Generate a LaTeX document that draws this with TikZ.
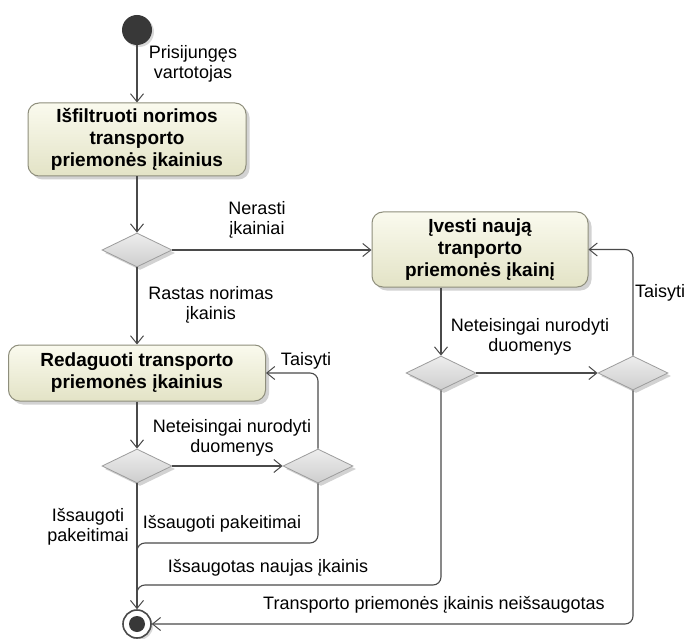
\documentclass[tikz,border=0pt]{standalone}
\usepackage{fontspec}
\setmainfont{Liberation Sans}
\usetikzlibrary{shapes.geometric,arrows.meta,shadows,calc}

\definecolor{edgegray}{HTML}{4A4A4A}
\definecolor{boxline}{HTML}{8E8E7C}
\definecolor{boxtop}{HTML}{FAFAEE}
\definecolor{boxbot}{HTML}{E3E3C6}
\definecolor{decline}{HTML}{9C9C9C}
\definecolor{dectop}{HTML}{EEEEEE}
\definecolor{decbot}{HTML}{CDCDCD}
\definecolor{dotfill}{HTML}{383838}

\tikzset{
  action/.style={draw=boxline, line width=1pt, rounded corners=11pt,
    top color=boxtop, bottom color=boxbot, align=center, inner sep=0pt,
    font=\fontsize{19}{22}\selectfont\bfseries,
    drop shadow={shadow xshift=3.5pt, shadow yshift=-3.5pt, opacity=0.35, fill=gray}},
  decision/.style={diamond, draw=decline, line width=0.8pt, inner sep=0pt,
    minimum width=70pt, minimum height=34pt,
    top color=dectop, bottom color=decbot,
    drop shadow={shadow xshift=3pt, shadow yshift=-3pt, opacity=0.35, fill=gray}},
  flow/.style={draw=edgegray, line width=1.1pt, rounded corners=8pt},
  flowarrow/.style={flow, -{Straight Barb[length=8pt,width=13pt,line width=1pt]}},
  guard/.style={align=center, inner sep=0pt, text=black,
    font=\fontsize{18}{20}\selectfont},
}

\begin{document}
\begin{tikzpicture}[x=1pt, y=-1pt]
  % page area
  \useasboundingbox (0,0) rectangle (688,639);
  \fill[white] (0,0) rectangle (688,639);

  % initial and final states
  \node[circle, fill=dotfill, minimum size=30pt, inner sep=0pt,
        drop shadow={shadow xshift=2pt, shadow yshift=-2pt, opacity=0.3, fill=gray}]
        (start) at (137,30) {};
  \node[circle, draw=edgegray, line width=1.6pt, fill=white, minimum size=28pt, inner sep=0pt,
        drop shadow={shadow xshift=2pt, shadow yshift=-2pt, opacity=0.3, fill=gray}]
        (finish) at (137,624) {};
  \fill[dotfill] (finish.center) circle (8pt);

  % actions
  \node[action, minimum width=218pt, minimum height=73pt] (filter) at (137,139.5)
    {Išfiltruoti norimos\\transporto\\priemonės įkainius};
  \node[action, minimum width=257pt, minimum height=56pt] (edit) at (137,373)
    {Redaguoti transporto\\priemonės įkainius};
  \node[action, minimum width=216pt, minimum height=75pt] (enter) at (480,249.5)
    {Įvesti naują\\tranporto\\priemonės įkainį};

  % decisions
  \node[decision] (found) at (137,250) {};
  \node[decision] (editok) at (137,466) {};
  \node[decision] (editfix) at (318,466) {};
  \node[decision] (newok) at (441,373) {};
  \node[decision] (newfix) at (633,373) {};

  % merge points on the way to the final state
  \coordinate (mergeA) at (137,543);
  \coordinate (mergeAend) at (137,556);
  \coordinate (mergeB) at (137,585);
  \coordinate (mergeBend) at (137,598);

  % flows
  \draw[flowarrow] (start) -- (filter.north);
  \draw[flowarrow] (filter.south) -- (found.north);
  \draw[flowarrow] (found.east) -- (found.east -| enter.west);
  \draw[flowarrow] (found.south) -- (edit.north);
  \draw[flowarrow] (edit.south) -- (editok.north);
  \draw[flowarrow] (editok.east) -- (editfix.west);
  \draw[flowarrow] (editfix.north) |- (edit.east);
  \draw[flowarrow] (newok.north |- enter.south) -- (newok.north);
  \draw[flowarrow] (newok.east) -- (newfix.west);
  \draw[flowarrow] (newfix.north) |- (enter.east);
  \draw[flowarrow] (editok.south) -- (finish.north);
  \draw[flow] (editfix.south) |- (mergeA) -- (mergeAend);
  \draw[flow] (newok.south) |- (mergeB) -- (mergeBend);
  \draw[flowarrow] (newfix.south) |- (finish.east);

  % guards
  \node[guard] (gLogin) at (193,64) {Prisijungęs\\vartotojas};
  \node[guard] (gNone) at (257,220) {Nerasti\\įkainiai};
  \node[guard] (gFound) at (211,305) {Rastas norimas\\įkainis};
  \node[guard] (gWrongA) at (232,438) {Neteisingai nurodyti\\duomenys};
  \node[guard] (gFixA) at (306,361) {Taisyti};
  \node[guard] (gWrongB) at (530,337) {Neteisingai nurodyti\\duomenys};
  \node[guard] (gFixB) at (660,293) {Taisyti};
  \node[guard] (gSavedL) at (88,527) {Išsaugoti\\pakeitimai};
  \node[guard] (gSavedR) at (222,524) {Išsaugoti pakeitimai};
  \node[guard] (gNew) at (268,568) {Išsaugotas naujas įkainis};
  \node[guard] (gNotSaved) at (434,605) {Transporto priemonės įkainis neišsaugotas};
\end{tikzpicture}
\end{document}
